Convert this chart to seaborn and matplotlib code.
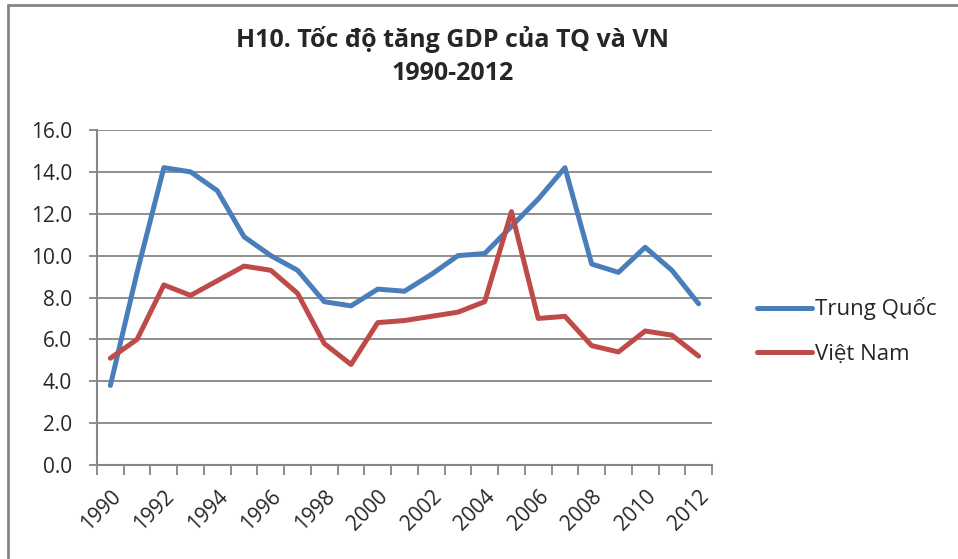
import pandas as pd
import seaborn as sns
import matplotlib.pyplot as plt
from matplotlib.lines import Line2D
from matplotlib.ticker import FixedLocator, FormatStrFormatter

# values (%)
years = list(range(1990, 2013))
trung_quoc = [3.8, 9.2, 14.2, 14.0, 13.1, 10.9, 10.0, 9.3, 7.8, 7.6, 8.4, 8.3,
              9.1, 10.0, 10.1, 11.4, 12.7, 14.2, 9.6, 9.2, 10.4, 9.3, 7.7]
viet_nam = [5.1, 6.0, 8.6, 8.1, 8.8, 9.5, 9.3, 8.2, 5.8, 4.8, 6.8, 6.9,
            7.1, 7.3, 7.8, 12.1, 7.0, 7.1, 5.7, 5.4, 6.4, 6.2, 5.2]
series_names = ['Trung Quốc', 'Việt Nam']
title = 'H10. Tốc độ tăng GDP của TQ và VN\n1990-2012'

df = pd.DataFrame({'Năm': years * 2,
                   'GDP': trung_quoc + viet_nam,
                   'Nước': [series_names[0]] * len(years) + [series_names[1]] * len(years)})

sns.set_style('white')
plt.rcParams['font.family'] = ['Open Sans', 'DejaVu Sans']
grey = '#868686'

fig = plt.figure(figsize=(9.58, 5.59), dpi=100)
ax = fig.add_axes([97 / 958, 94 / 559, 615 / 958, 335 / 559])

sns.lineplot(data=df, x='Năm', y='GDP', hue='Nước', ax=ax,
             palette=['#4A7EBB', '#BE4B48'], linewidth=3.6)

ax.set_xlim(1989.5, 2012.5)
ax.set_ylim(0, 16)
ax.set_xlabel('')
ax.set_ylabel('')

ax.yaxis.set_major_locator(FixedLocator(range(0, 17, 2)))
ax.yaxis.set_major_formatter(FormatStrFormatter('%.1f'))
ax.xaxis.set_major_locator(FixedLocator(range(1990, 2013, 2)))
ax.xaxis.set_minor_locator(FixedLocator([y - 0.5 for y in range(1990, 2014)]))
ax.tick_params(axis='y', which='major', length=6, width=1.3, color=grey,
               labelsize=15, pad=12, direction='out', left=True)
ax.tick_params(axis='x', which='major', length=0, labelsize=15, pad=15)
ax.tick_params(axis='x', which='minor', length=7, width=1.3, color=grey,
               direction='out', bottom=True)
for lab in ax.get_xticklabels():
    lab.set_rotation(45)
    lab.set_ha('right')
    lab.set_rotation_mode('anchor')

ax.grid(axis='y', color=grey, linewidth=1.3)
ax.set_axisbelow(True)
for side in ['top', 'right']:
    ax.spines[side].set_visible(False)
for side in ['left', 'bottom']:
    ax.spines[side].set_color(grey)
    ax.spines[side].set_linewidth(1.5)

leg = ax.legend(loc='center left', bbox_to_anchor=(1.073, 0.40), frameon=False,
                fontsize=16, handlelength=2.5, handletextpad=0.1, labelspacing=1.05,
                borderaxespad=0, borderpad=0)

fig.text(453 / 958, 1 - 56 / 559, title, ha='center', va='center',
         fontsize=18, fontweight='bold', linespacing=1.4)

# chart border, cut off on right and bottom
fig.add_artist(Line2D([8 / 958, 8 / 958], [0, 1 - 5 / 559], color=grey, linewidth=2))
fig.add_artist(Line2D([8 / 958, 1], [1 - 5 / 559, 1 - 5 / 559], color=grey, linewidth=2))

fig.savefig('out.png', dpi=100)
